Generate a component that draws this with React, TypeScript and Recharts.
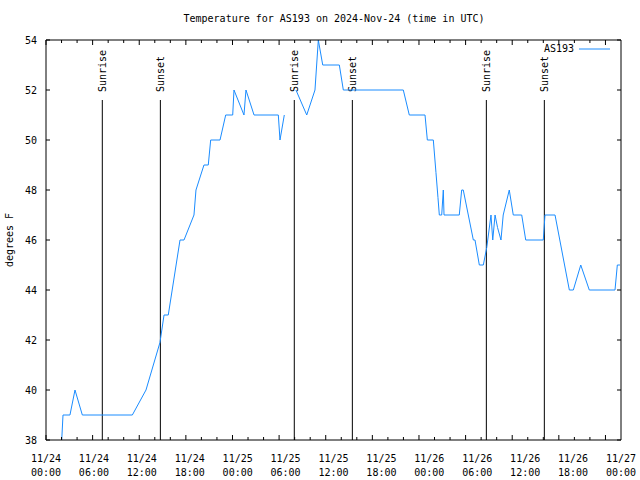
import { LineChart, Line, XAxis, YAxis, ReferenceLine } from "recharts";

// hours since 2024-11-24 00:00 UTC
const hours = [
  1.97, 2.13, 3.0, 3.63, 4.55, 10.81, 12.52, 13.44, 14.27, 14.78,
  15.31, 16.78, 17.28, 18.53, 18.78, 19.78, 20.32, 20.62, 21.79, 22.5,
  23.38, 23.54, 24.79, 25.04, 26.05, 29.09, 29.3, 29.84, 30.5, 31.3,
  32.65, 33.68, 34.1, 34.65, 36.73, 37.23, 44.74, 45.49, 47.46, 47.75,
  48.5, 48.83, 49.08, 49.25, 49.55, 49.75, 49.84, 51.75, 52.05, 52.25,
  53.51, 53.72, 54.26, 54.76, 55.19, 55.72, 55.94, 56.23, 56.54, 56.97,
  57.25, 58.01, 58.51, 59.57, 60.07, 62.27, 62.48, 63.74, 65.53, 66.03,
  66.96, 68.03, 71.25, 71.54, 71.87,
];

const temps = [
  38, 39, 39, 40, 39, 39, 40, 41, 41.9, 43,
  43, 46, 46, 47, 48, 49, 49, 50, 50, 51,
  51, 52, 51, 52, 51, 51, 50, 51, null, 52,
  51, 52, 54, 53, 53, 52, 52, 51, 51, 50,
  50, 48.7, 47.7, 47, 47, 48, 47, 47, 48, 48,
  46, 46, 45, 45, 45.7, 47, 46, 47, 46.5, 46,
  47, 48, 47, 47, 46, 46, 47, 47, 44, 44,
  45, 44, 44, 45, 45,
];

const xTicks = [0, 6, 12, 18, 24, 30, 36, 42, 48, 54, 60, 66, 72];
const xMinorTicks = [
  0, 2, 4, 6, 8, 10, 12, 14, 16, 18, 20, 22, 24, 26, 28, 30, 32, 34, 36,
  38, 40, 42, 44, 46, 48, 50, 52, 54, 56, 58, 60, 62, 64, 66, 68, 70, 72,
];
const dayLabels = ["11/24", "11/24", "11/24", "11/24", "11/25", "11/25", "11/25", "11/25", "11/26", "11/26", "11/26", "11/26", "11/27"];
const timeLabels = ["00:00", "06:00", "12:00", "18:00", "00:00", "06:00", "12:00", "18:00", "00:00", "06:00", "12:00", "18:00", "00:00"];
const yTicks = [38, 40, 42, 44, 46, 48, 50, 52, 54];

const sunEvents = [
  { name: "Sunrise", hour: 7.05 },
  { name: "Sunset", hour: 14.32 },
  { name: "Sunrise", hour: 31.09 },
  { name: "Sunset", hour: 38.36 },
  { name: "Sunrise", hour: 55.14 },
  { name: "Sunset", hour: 62.4 },
];
const sunLineTop = 51.6;

const data = hours.map((h, i) => ({ h, temp: temps[i] }));

const MONO = "'DejaVu Sans Mono', monospace";
const LINE_COLOR = "#1a8cff";

const TimeTick = ({ x, y, index }: any) => (
  <g fontFamily={MONO} fontSize={10} fill="#000">
    <text x={x} y={y + 22} textAnchor="middle">{dayLabels[index]}</text>
    <text x={x} y={y + 36} textAnchor="middle">{timeLabels[index]}</text>
  </g>
);

const TempTick = ({ x, y, payload }: any) => (
  <text x={x} y={y} dy="0.35em" textAnchor="end" fontFamily={MONO} fontSize={10} fill="#000">
    {payload.value}
  </text>
);

// inward tick marks, gnuplot style
const innerXTick = (dir: number) => ({ x, y, payload }: any) => {
  const len = payload.value % 6 === 0 ? 5 : 3;
  return <line x1={x} y1={y} x2={x} y2={y + dir * len} stroke="#000" />;
};
const innerYTick = (dir: number) => ({ x, y }: any) => (
  <line x1={x} y1={y} x2={x + dir * 4} y2={y} stroke="#000" />
);

const SunLabel = (name: string) => ({ viewBox }: any) => {
  const lx = viewBox.x;
  const ly = viewBox.y - 8;
  return (
    <text
      x={lx}
      y={ly}
      dy="0.35em"
      transform={`rotate(-90 ${lx} ${ly})`}
      fontFamily={MONO}
      fontSize={10}
      fill="#000"
    >
      {name}
    </text>
  );
};

export default function App() {
  return (
    <div style={{ position: "absolute", left: 0, top: 0, width: 640, height: 480, background: "#fff" }}>
      <LineChart width={640} height={480} data={data} margin={{ top: 40, right: 19, bottom: 0, left: 0 }}>
        <XAxis
          xAxisId="main"
          dataKey="h"
          type="number"
          domain={[0, 72]}
          ticks={xTicks}
          interval={0}
          height={40}
          tickLine={false}
          tickSize={0}
          tickMargin={0}
          axisLine={{ stroke: "#000" }}
          tick={<TimeTick />}
        />
        <XAxis
          xAxisId="innerBottom"
          type="number"
          domain={[0, 72]}
          ticks={xMinorTicks}
          interval={0}
          mirror
          allowDataOverflow
          tickLine={false}
          tickSize={0}
          tickMargin={0}
          axisLine={false}
          tick={innerXTick(-1)}
        />
        <XAxis
          xAxisId="innerTop"
          orientation="top"
          type="number"
          domain={[0, 72]}
          ticks={xMinorTicks}
          interval={0}
          mirror
          allowDataOverflow
          tickLine={false}
          tickSize={0}
          tickMargin={0}
          axisLine={{ stroke: "#000" }}
          tick={innerXTick(1)}
        />
        <YAxis
          yAxisId="main"
          domain={[38, 54]}
          ticks={yTicks}
          interval={0}
          width={46}
          tickLine={false}
          tickSize={0}
          tickMargin={9}
          axisLine={{ stroke: "#000" }}
          tick={<TempTick />}
        />
        <YAxis
          yAxisId="innerLeft"
          domain={[38, 54]}
          ticks={yTicks}
          interval={0}
          mirror
          allowDataOverflow
          tickLine={false}
          tickSize={0}
          tickMargin={0}
          axisLine={false}
          tick={innerYTick(1)}
        />
        <YAxis
          yAxisId="innerRight"
          orientation="right"
          domain={[38, 54]}
          ticks={yTicks}
          interval={0}
          mirror
          allowDataOverflow
          tickLine={false}
          tickSize={0}
          tickMargin={0}
          axisLine={{ stroke: "#000" }}
          tick={innerYTick(-1)}
        />
        {sunEvents.map((ev, i) => (
          <ReferenceLine
            key={i}
            xAxisId="main"
            yAxisId="main"
            segment={[{ x: ev.hour, y: 38 }, { x: ev.hour, y: sunLineTop }]}
            stroke="#000"
            strokeWidth={1}
            ifOverflow="visible"
            label={SunLabel(ev.name)}
          />
        ))}
        <Line
          xAxisId="main"
          yAxisId="main"
          type="linear"
          dataKey="temp"
          stroke={LINE_COLOR}
          strokeWidth={1}
          dot={false}
          activeDot={false}
          connectNulls={false}
          isAnimationActive={false}
        />
      </LineChart>

      <div style={{ position: "absolute", left: 0, top: 13, width: 668, textAlign: "center", fontFamily: MONO, fontSize: 10, lineHeight: "12px", whiteSpace: "nowrap" }}>
        Temperature for AS193 on 2024-Nov-24 (time in UTC)
      </div>

      <div style={{ position: "absolute", left: -40, top: 234, width: 100, height: 12, textAlign: "center", fontFamily: MONO, fontSize: 10, lineHeight: "12px", transform: "rotate(-90deg)", whiteSpace: "nowrap" }}>
        degrees F
      </div>

      <div style={{ position: "absolute", left: 534, top: 43, width: 40, textAlign: "right", fontFamily: MONO, fontSize: 10, lineHeight: "12px" }}>
        AS193
      </div>
      <svg style={{ position: "absolute", left: 579, top: 44 }} width={32} height={10}>
        <line x1={0} y1={5} x2={31} y2={5} stroke={LINE_COLOR} strokeWidth={1} />
      </svg>
    </div>
  );
}
